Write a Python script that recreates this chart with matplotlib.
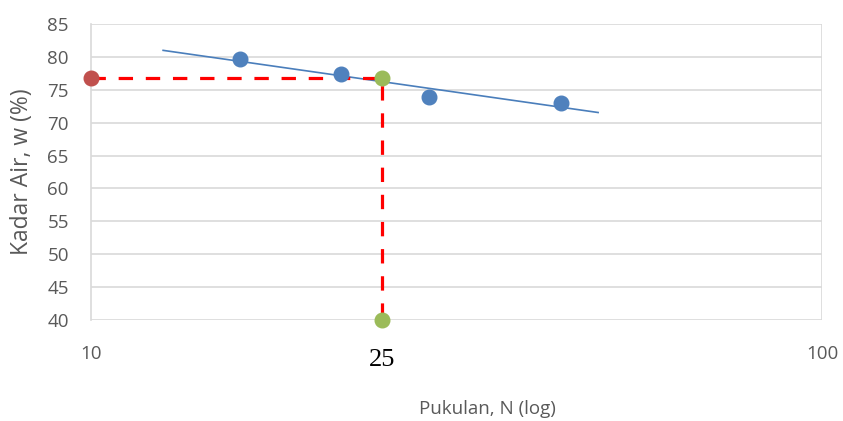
import numpy as np
import matplotlib
matplotlib.use("Agg")
import matplotlib.pyplot as plt

# data
blows = [16, 22, 29, 44]
water = [79.65, 77.4, 73.95, 73.0]
n_target = 25
w_target = 76.8
x_axis_min, x_axis_max = 10, 100
y_axis_min, y_axis_max = 40, 85
trend_range = [12.55, 49.4]
y_ticks = [40, 45, 50, 55, 60, 65, 70, 75, 80, 85]

plt.rcParams['font.family'] = ['Open Sans', 'DejaVu Sans']
gray = '#595959'
fs = 13.5

fig = plt.figure(figsize=(8.43, 4.21), dpi=100)
ax = fig.add_axes([91/843, 1-320/421, (822-91)/843, (320-24)/421])
ax.set_xscale('log')
ax.set_xlim(x_axis_min, x_axis_max)
ax.set_ylim(y_axis_min, y_axis_max)

# gridlines
ax.set_yticks(y_ticks)
ax.grid(axis='y', color='#d9d9d9', lw=1.2)
ax.set_axisbelow(True)
for s in ['top', 'right', 'bottom']:
    ax.spines[s].set_visible(False)
ax.spines['left'].set_color('#d9d9d9')
ax.spines['left'].set_linewidth(1.2)
ax.axvline(x_axis_max, color='#d9d9d9', lw=1.2, zorder=0)

# trendline (log fit)
lx = np.log10(blows)
slope, icpt = np.polyfit(lx, water, 1)
tx = np.array(trend_range)
ax.plot(tx, slope*np.log10(tx)+icpt, color='#4a7ebb', lw=1.2, zorder=3)

# dashed guide lines
ax.plot([x_axis_min, n_target, n_target], [w_target, w_target, y_axis_min],
        color='#ff0000', lw=2.3, dashes=(4.5, 4), zorder=4, clip_on=False)

ax.plot(blows, water, 'o', color='#4f81bd', ms=10.5, zorder=5, clip_on=False)
ax.plot([x_axis_min], [w_target], 'o', color='#c0504d', ms=10.5, zorder=6, clip_on=False)
ax.plot([n_target, n_target], [w_target, y_axis_min], 'o', color='#9bbb59', ms=10.5,
        zorder=6, clip_on=False)

# ticks
ax.set_xticks([x_axis_min, x_axis_max])
ax.set_xticklabels(['10', '100'])
ax.xaxis.set_minor_locator(matplotlib.ticker.NullLocator())
ax.tick_params(axis='x', length=0, pad=18, labelsize=fs, labelcolor=gray)
ax.tick_params(axis='y', length=0, pad=16, labelsize=fs, labelcolor=gray)

ax.text(n_target, -0.135, '25', transform=ax.get_xaxis_transform(), ha='center', va='center',
        fontsize=19, family='Liberation Serif', color='black')

fig.text(487/843, 1-409/421, 'Pukulan, N (log)', ha='center', va='center', fontsize=13.5, color=gray)
fig.text(22/843, 1-172/421, 'Kadar Air, w (%)', ha='center', va='center', rotation=90,
         fontsize=16.5, color=gray)

fig.savefig('out.png', dpi=100)
